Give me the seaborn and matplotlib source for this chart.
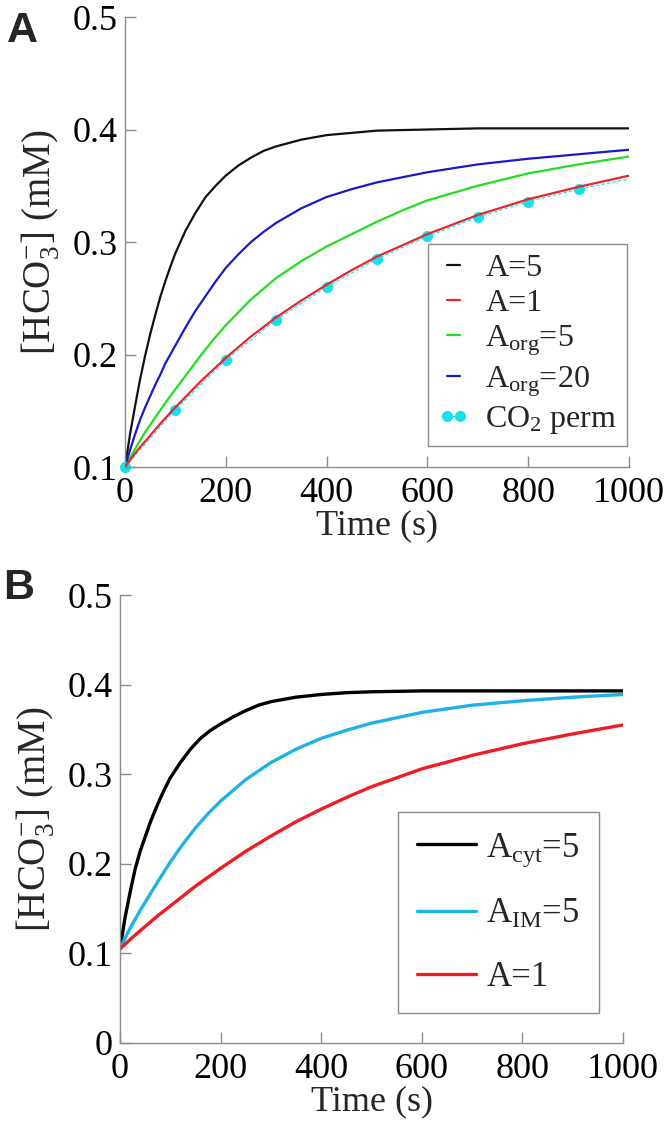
import numpy as np
import pandas as pd
import matplotlib
matplotlib.use("Agg")
import matplotlib.pyplot as plt
import seaborn as sns

# ---------------- data ----------------
# Panel A
tA_black = [0, 10, 20, 30, 40, 50, 60, 70, 80, 90, 100, 120, 140, 160, 180, 200, 225, 250, 275,
            300, 350, 400, 450, 500, 600, 700, 800, 900, 1000]
yA_black = [0.100, 0.129, 0.154, 0.178, 0.199, 0.218, 0.235, 0.251, 0.265, 0.278, 0.290, 0.310,
            0.326, 0.340, 0.350, 0.359, 0.368, 0.375, 0.381, 0.385, 0.391, 0.395, 0.397, 0.399,
            0.400, 0.401, 0.401, 0.401, 0.401]

tA_red = [0, 25, 50, 75, 100, 150, 200, 250, 300, 350, 400, 450, 500, 600, 700, 800, 900, 1000]
yA_red = [0.100, 0.115, 0.128, 0.141, 0.153, 0.176, 0.197, 0.216, 0.233, 0.248, 0.262, 0.275,
          0.287, 0.307, 0.324, 0.338, 0.349, 0.359]

tA_green = [0, 20, 40, 60, 80, 100, 125, 150, 175, 200, 250, 300, 350, 400, 450, 500, 550, 600,
            700, 800, 900, 1000]
yA_green = [0.100, 0.116, 0.131, 0.144, 0.157, 0.169, 0.184, 0.199, 0.213, 0.226, 0.249, 0.268,
            0.283, 0.296, 0.307, 0.318, 0.328, 0.337, 0.350, 0.361, 0.369, 0.376]

tA_blue = [0, 10, 20, 30, 40, 50, 60, 70, 80, 90, 100, 120, 140, 160, 180, 200, 225, 250, 275,
           300, 350, 400, 450, 500, 600, 700, 800, 900, 1000]
yA_blue = [0.100, 0.115, 0.129, 0.142, 0.153, 0.163, 0.173, 0.182, 0.192, 0.200, 0.208, 0.224,
           0.239, 0.252, 0.265, 0.277, 0.289, 0.300, 0.309, 0.317, 0.330, 0.340, 0.347, 0.353,
           0.362, 0.369, 0.374, 0.378, 0.382]

tA_perm = [0, 100, 200, 300, 400, 500, 600, 700, 800, 900, 1000]
yA_perm = [0.100, 0.151, 0.195, 0.231, 0.260, 0.285, 0.305, 0.322, 0.336, 0.347, 0.356]

labelsA = ["A=5", "A=1", r"A$_{\mathrm{org}}$=5", r"A$_{\mathrm{org}}$=20", r"CO$_2$ perm"]

# Panel B
tB_black = [0, 10, 20, 30, 40, 50, 60, 70, 80, 90, 100, 120, 140, 160, 180, 200, 225, 250, 275,
            300, 350, 400, 450, 500, 600, 1000]
yB_black = [0.105, 0.140, 0.168, 0.194, 0.214, 0.230, 0.246, 0.260, 0.273, 0.285, 0.296, 0.313,
            0.328, 0.340, 0.349, 0.356, 0.364, 0.371, 0.377, 0.381, 0.386, 0.389, 0.391, 0.392,
            0.393, 0.393]

tB_cyan = [0, 10, 20, 30, 40, 50, 75, 100, 125, 150, 175, 200, 250, 300, 350, 400, 450, 500,
           600, 700, 800, 900, 1000]
yB_cyan = [0.105, 0.117, 0.128, 0.138, 0.148, 0.157, 0.180, 0.202, 0.222, 0.240, 0.256, 0.270,
           0.294, 0.313, 0.328, 0.340, 0.349, 0.357, 0.369, 0.377, 0.382, 0.386, 0.389]

tB_red = [0, 25, 50, 75, 100, 150, 200, 250, 300, 350, 400, 450, 500, 600, 700, 800, 900, 1000]
yB_red = [0.105, 0.118, 0.130, 0.142, 0.153, 0.175, 0.195, 0.214, 0.231, 0.247, 0.261, 0.274,
          0.286, 0.306, 0.321, 0.334, 0.345, 0.355]

labelsB = [r"A$_{\mathrm{cyt}}$=5", r"A$_{\mathrm{IM}}$=5", "A=1"]

xticks = [0, 200, 400, 600, 800, 1000]
yticksA = [0.1, 0.2, 0.3, 0.4, 0.5]
yticksB = [0, 0.1, 0.2, 0.3, 0.4, 0.5]

# ---------------- style ----------------
sns.set_theme(style="ticks")
plt.rcParams["font.family"] = ["Liberation Serif", "DejaVu Serif"]
plt.rcParams["mathtext.fontset"] = "custom"
plt.rcParams["mathtext.rm"] = "Liberation Serif"
plt.rcParams["mathtext.it"] = "Liberation Serif:italic"
plt.rcParams["mathtext.bf"] = "Liberation Serif:bold"

GRAY = "#8c8c8c"
TICKFS = 26

fig = plt.figure(figsize=(6.69, 11.41), dpi=100)
axA = fig.add_axes([0.1868, 0.5907, 0.7534, 0.3944])
axB = fig.add_axes([0.1794, 0.0859, 0.7519, 0.3926])


def style_axes(ax, yticks, ylim):
    ax.set_xlim(0, 1000)
    ax.set_ylim(*ylim)
    ax.set_xticks(xticks)
    ax.set_yticks(yticks)
    ax.set_xticklabels([str(v) for v in xticks])
    ax.set_yticklabels([("0" if v == 0 else f"{v:g}") for v in yticks])
    for s in ["top", "right"]:
        ax.spines[s].set_visible(False)
    for s in ["left", "bottom"]:
        ax.spines[s].set_color(GRAY)
        ax.spines[s].set_linewidth(1.0)
    ax.tick_params(direction="in", length=8, width=1.0, color=GRAY,
                   labelsize=TICKFS, labelcolor="black")
    ax.tick_params(axis="y", pad=5)
    ax.tick_params(axis="x", pad=7)
    ax.set_xlabel("Time (s)", fontsize=TICKFS, labelpad=0)
    ax.set_ylabel(r"[HCO$_3^{-}$] (mM)", fontsize=28, labelpad=8)


# ---------------- Panel A ----------------
lw_a = 1.6
sns.lineplot(x=tA_black, y=yA_black, ax=axA, color="#111111", lw=lw_a, label=labelsA[0])
sns.lineplot(x=tA_red, y=yA_red, ax=axA, color="#e8262a", lw=lw_a, label=labelsA[1], zorder=3)
sns.lineplot(x=tA_green, y=yA_green, ax=axA, color="#22dd22", lw=lw_a, label=labelsA[2])
sns.lineplot(x=tA_blue, y=yA_blue, ax=axA, color="#1a1acc", lw=lw_a, label=labelsA[3])
sns.lineplot(x=tA_perm, y=yA_perm, ax=axA, color="#16e0ec", lw=0.8, linestyle=(0, (3, 2)),
             marker="o", markersize=8, markeredgewidth=0, markevery=list(range(10)),
             label=labelsA[4], zorder=2)
for ln in axA.get_lines():
    if ln.get_label() == labelsA[4]:
        ln.set_clip_on(False)
style_axes(axA, yticksA, (0.1, 0.5))
legA = axA.legend(loc="lower right", bbox_to_anchor=(0.996, 0.047), fontsize=23,
                  handlelength=1.0, handletextpad=0.5, labelspacing=0.18, borderpad=0.3,
                  numpoints=2, frameon=True, fancybox=False, framealpha=1, borderaxespad=0)
legA.get_frame().set_edgecolor(GRAY)
legA.get_frame().set_linewidth(1.0)

# ---------------- Panel B ----------------
lw_b = 2.4
sns.lineplot(x=tB_black, y=yB_black, ax=axB, color="#000000", lw=lw_b, label=labelsB[0])
sns.lineplot(x=tB_cyan, y=yB_cyan, ax=axB, color="#1fb2e8", lw=lw_b, label=labelsB[1])
sns.lineplot(x=tB_red, y=yB_red, ax=axB, color="#ee1c24", lw=lw_b, label=labelsB[2])
style_axes(axB, yticksB, (0, 0.5))
legB = axB.legend(loc="lower right", bbox_to_anchor=(0.952, 0.067), fontsize=25,
                  handlelength=1.7, handletextpad=0.3, labelspacing=0.85, borderpad=0.55,
                  frameon=True, fancybox=False, framealpha=1, borderaxespad=0)
legB.get_frame().set_edgecolor(GRAY)
legB.get_frame().set_linewidth(1.0)

# panel letters
fig.text(0.033, 0.973, "A", fontsize=31, fontweight="bold", family="Liberation Sans",
         ha="center", va="center")
fig.text(0.028, 0.485, "B", fontsize=31, fontweight="bold", family="Liberation Sans",
         ha="center", va="center")

fig.savefig("out.png", dpi=100)
